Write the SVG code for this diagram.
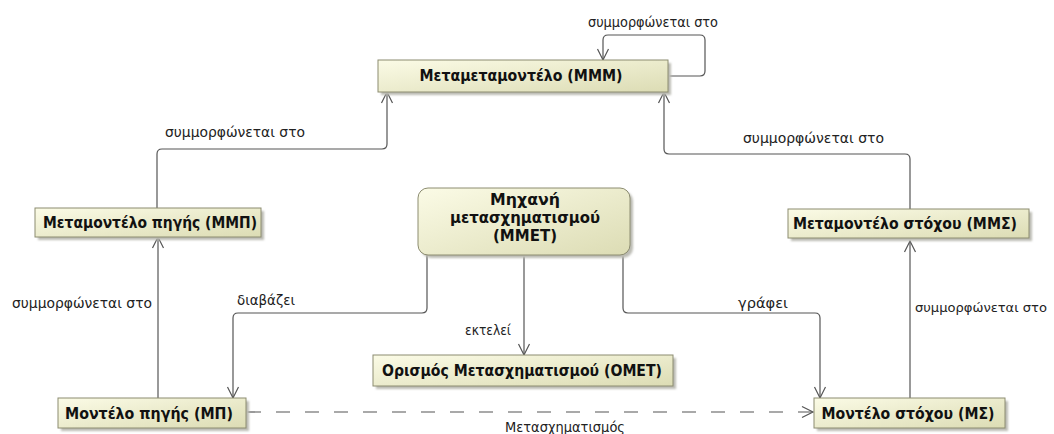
<svg xmlns="http://www.w3.org/2000/svg" width="1054" height="434" viewBox="0 0 1054 434">
  <defs>
    <linearGradient id="boxFill" x1="0" y1="0" x2="1" y2="1">
      <stop offset="0" stop-color="#fbfbe6"/>
      <stop offset="1" stop-color="#dcdcb4"/>
    </linearGradient>
    <marker id="openArrow" markerWidth="14" markerHeight="14" refX="12" refY="7" orient="auto" markerUnits="userSpaceOnUse">
      <path d="M1,1.5 L12,7 L1,12.5" fill="none" stroke="#555" stroke-width="1.2"/>
    </marker>
    <filter id="soft" x="-10%" y="-20%" width="120%" height="140%">
      <feGaussianBlur stdDeviation="1"/>
    </filter>
  </defs>
  <style>
    .box { fill: url(#boxFill); stroke: #8c8c70; stroke-width: 1; }
    .shadow { fill: #bcbcb4; filter: url(#soft); }
    .name { font-family: "DejaVu Sans", "Liberation Sans", sans-serif; font-weight: bold; font-size: 15px; fill: #111; text-anchor: middle; }
    .lbl { font-family: "DejaVu Sans", "Liberation Sans", sans-serif; font-size: 14px; fill: #222; }
    .lbl.edge-right { font-size: 12.5px; }
    .edge { fill: none; stroke: #555; stroke-width: 1.2; marker-end: url(#openArrow); }
    .dash { stroke-dasharray: 14 15; }
  </style>
  <rect width="1054" height="434" fill="#ffffff"/>

  <!-- connectors -->
  <g id="connectors">
    <path class="edge" d="M668,76 H700 Q705,76 705,71 V40 Q705,35 700,35 H608 Q603,35 603,40 V60"/>
    <path class="edge" d="M157,208 V154 Q157,149 162,149 H382 Q387,149 387,144 V92"/>
    <path class="edge" d="M910,209 V159 Q910,154 905,154 H669 Q664,154 664,149 V92"/>
    <path class="edge" d="M158,398 V237"/>
    <path class="edge" d="M910,398 V241"/>
    <path class="edge" d="M427,255 V308 Q427,313 422,313 H238 Q233,313 233,318 V398"/>
    <path class="edge" d="M524,255 V355"/>
    <path class="edge" d="M623,255 V308 Q623,313 628,313 H815 Q820,313 820,318 V398"/>
    <path class="edge dash" d="M247,412 H813"/>

    <text class="lbl" x="588" y="27" textLength="130" lengthAdjust="spacingAndGlyphs">συμμορφώνεται στο</text>
    <text class="lbl" x="165" y="137" textLength="140" lengthAdjust="spacingAndGlyphs">συμμορφώνεται στο</text>
    <text class="lbl" x="743" y="143" textLength="141" lengthAdjust="spacingAndGlyphs">συμμορφώνεται στο</text>
    <text class="lbl" x="12" y="308" textLength="140" lengthAdjust="spacingAndGlyphs">συμμορφώνεται στο</text>
    <text class="lbl edge-right" x="915" y="312" textLength="132" lengthAdjust="spacingAndGlyphs">συμμορφώνεται στο</text>
    <text class="lbl" x="237" y="305" textLength="58" lengthAdjust="spacingAndGlyphs">διαβάζει</text>
    <text class="lbl" x="465" y="335" textLength="46" lengthAdjust="spacingAndGlyphs">εκτελεί</text>
    <text class="lbl" x="738" y="308" textLength="50" lengthAdjust="spacingAndGlyphs">γράφει</text>
    <text class="lbl" x="505" y="432" textLength="120" lengthAdjust="spacingAndGlyphs">Μετασχηματισμός</text>
  </g>

  <!-- nodes -->
  <g id="node-mmm">
    <rect class="shadow" x="381" y="63" width="290" height="32"/>
    <rect class="box" x="378" y="60" width="290" height="32"/>
    <text class="name" x="521" y="81" textLength="203" lengthAdjust="spacingAndGlyphs">Μεταμεταμοντέλο (ΜΜΜ)</text>
  </g>
  <g id="node-mmp">
    <rect class="shadow" x="38" y="211" width="226" height="29"/>
    <rect class="box" x="35" y="208" width="226" height="29"/>
    <text class="name" x="150" y="228" textLength="214" lengthAdjust="spacingAndGlyphs">Μεταμοντέλο πηγής (ΜΜΠ)</text>
  </g>
  <g id="node-mmet">
    <rect class="shadow" x="421" y="191" width="212" height="67" rx="10"/>
    <rect class="box" x="418" y="188" width="212" height="67" rx="10"/>
    <text class="name" x="525" y="205" textLength="70" lengthAdjust="spacingAndGlyphs">Μηχανή</text>
    <text class="name" x="525" y="223" textLength="150" lengthAdjust="spacingAndGlyphs">μετασχηματισμού</text>
    <text class="name" x="525" y="241" textLength="64" lengthAdjust="spacingAndGlyphs">(ΜΜΕΤ)</text>
  </g>
  <g id="node-mms">
    <rect class="shadow" x="791" y="212" width="241" height="29"/>
    <rect class="box" x="788" y="209" width="241" height="29"/>
    <text class="name" x="905" y="229" textLength="224" lengthAdjust="spacingAndGlyphs">Μεταμοντέλο στόχου (ΜΜΣ)</text>
  </g>
  <g id="node-omet">
    <rect class="shadow" x="376" y="358" width="300" height="31"/>
    <rect class="box" x="373" y="355" width="300" height="31"/>
    <text class="name" x="522" y="376" textLength="280" lengthAdjust="spacingAndGlyphs">Ορισμός Μετασχηματισμού (ΟΜΕΤ)</text>
  </g>
  <g id="node-mp">
    <rect class="shadow" x="61" y="401" width="188" height="30"/>
    <rect class="box" x="58" y="398" width="188" height="30"/>
    <text class="name" x="149" y="419" textLength="168" lengthAdjust="spacingAndGlyphs">Μοντέλο πηγής (ΜΠ)</text>
  </g>
  <g id="node-ms">
    <rect class="shadow" x="817" y="401" width="191" height="30"/>
    <rect class="box" x="814" y="398" width="191" height="30"/>
    <text class="name" x="908" y="419" textLength="173" lengthAdjust="spacingAndGlyphs">Μοντέλο στόχου (ΜΣ)</text>
  </g>
</svg>
